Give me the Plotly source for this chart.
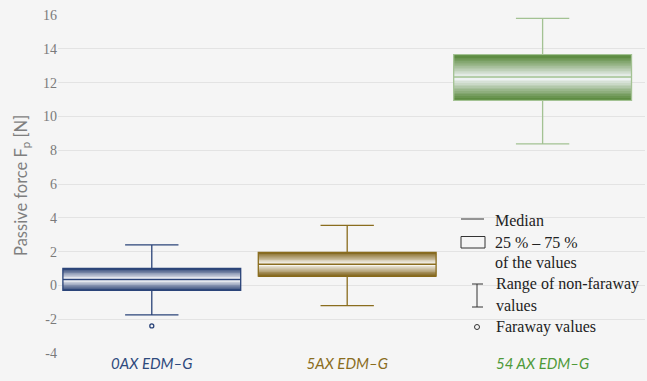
import plotly.graph_objects as go

# ---- data ----
categories = ["0AX EDM–G", "5AX EDM–G", "54 AX EDM–G"]
lower_whisker = [-1.75, -1.2, 8.38]
q1 = [-0.3, 0.55, 10.95]
median = [0.35, 1.25, 12.33]
q3 = [1.0, 1.95, 13.65]
upper_whisker = [2.4, 3.55, 15.8]
outlier_cat = ["0AX EDM–G"]
outlier_val = [-2.4]
y_tickvals = [-4, -2, 0, 2, 4, 6, 8, 10, 12, 14, 16]
y_ticktext = ["-4", "-2", "0", "2", "4", "6", "8", "10", "12", "14", "16"]

# ---- styles ----
edge_colors = [(34, 58, 110), (124, 94, 20), (82, 132, 52)]
center_colors = [(244, 245, 248), (247, 245, 238), (238, 242, 243)]
line_colors = ["#2b4479", "#8a6d1e", "#a3c293"]
label_colors = ["#2e4a7d", "#8a6d1e", "#4f9a3a"]
BOXW = 0.91

fig = go.Figure()

N = 14
def mix(a, b, t):
    return "rgb(%d,%d,%d)" % tuple(round(a[i] + (b[i] - a[i]) * t) for i in range(3))

for k in range(N):
    t = k / (N - 1)
    cols = [mix(edge_colors[i], center_colors[i], t) for i in range(3)]
    h = [(q3[i] - q1[i]) / 2 / N for i in range(3)]
    fig.add_trace(go.Bar(x=categories, base=[q3[i] - (k + 1) * h[i] for i in range(3)],
                         y=[h[i] * 1.02 for i in range(3)], width=BOXW,
                         marker=dict(color=cols, line=dict(width=0)), showlegend=False, hoverinfo="skip"))
    fig.add_trace(go.Bar(x=categories, base=[q1[i] + k * h[i] for i in range(3)],
                         y=[h[i] * 1.02 for i in range(3)], width=BOXW,
                         marker=dict(color=cols, line=dict(width=0)), showlegend=False, hoverinfo="skip"))

for i, c in enumerate(categories):
    fig.add_trace(go.Box(x=[c], q1=[q1[i]], median=[median[i]], q3=[q3[i]],
                         lowerfence=[lower_whisker[i]], upperfence=[upper_whisker[i]],
                         width=BOXW, whiskerwidth=0.3, fillcolor="rgba(0,0,0,0)",
                         line=dict(color=line_colors[i], width=1.3), boxpoints=False,
                         showlegend=False))

fig.add_trace(go.Scatter(x=outlier_cat, y=outlier_val, mode="markers",
                         marker=dict(symbol="circle-open", size=4, color="#2b4479", line=dict(width=1.3)),
                         showlegend=False))

W, H = 647, 381
L, R, T, B = 58, 2, 15, 28
pw, ph = W - L - R, H - T - B
def px(x):
    return (x - L) / pw
def py(y):
    return (H - B - y) / ph

shapes = []
leg_col = "#333333"
shapes.append(dict(type="line", xref="paper", yref="paper", x0=px(461), x1=px(484), y0=py(219), y1=py(219),
                   line=dict(color=leg_col, width=1)))
shapes.append(dict(type="rect", xref="paper", yref="paper", x0=px(461), x1=px(485), y0=py(236.5), y1=py(248),
                   line=dict(color=leg_col, width=1)))
shapes.append(dict(type="line", xref="paper", yref="paper", x0=px(477), x1=px(477), y0=py(284), y1=py(307),
                   line=dict(color=leg_col, width=1)))
shapes.append(dict(type="line", xref="paper", yref="paper", x0=px(472), x1=px(483), y0=py(284), y1=py(284),
                   line=dict(color=leg_col, width=1)))
shapes.append(dict(type="line", xref="paper", yref="paper", x0=px(472), x1=px(483), y0=py(307), y1=py(307),
                   line=dict(color=leg_col, width=1)))
shapes.append(dict(type="circle", xref="paper", yref="paper", x0=px(474.5), x1=px(479.5), y0=py(324.5), y1=py(329.5),
                   line=dict(color=leg_col, width=1)))

annotations = []
leg_font = dict(family="Liberation Serif", size=16, color="#222222")
for txt, x, y in [("Median", 493, 220), ("25 % – 75 %", 493, 242), ("of the values", 493, 262),
                  ("Range of non-faraway", 494, 284), ("values", 494, 305), ("Faraway values", 494, 327)]:
    annotations.append(dict(text=txt, xref="paper", yref="paper", x=px(x), y=py(y), xanchor="left",
                            yanchor="middle", showarrow=False, font=leg_font))

annotations.append(dict(text="Passive force F<sub>p</sub> [N]", xref="paper", yref="paper", x=px(21), y=py(186),
                        textangle=-90, showarrow=False, xanchor="center", yanchor="middle",
                        font=dict(family="Lato", size=16.5, color="#7f7f7f")))

ticktext = ["<i><span style='color:%s'>%s</span></i>" % (label_colors[i], c) for i, c in enumerate(categories)]

fig.update_layout(
    width=W, height=H, margin=dict(l=L, r=R, t=T, b=B),
    paper_bgcolor="#f5f5f5", plot_bgcolor="#f5f5f5",
    barmode="overlay", boxmode="overlay", showlegend=False,
    shapes=shapes, annotations=annotations,
    xaxis=dict(type="category", range=[-0.48, 2.524], showgrid=False, zeroline=False,
               tickmode="array", tickvals=categories, ticktext=ticktext, ticks="",
               tickfont=dict(family="Lato", size=15), fixedrange=True),
    yaxis=dict(range=[-4, 16], tickvals=y_tickvals, ticktext=y_ticktext, showgrid=True,
               gridcolor="#e3e3e3", gridwidth=1, zeroline=False, ticks="",
               tickfont=dict(family="Liberation Serif", size=14, color="#7a7a7a")),
)

fig.write_html("out.html")
